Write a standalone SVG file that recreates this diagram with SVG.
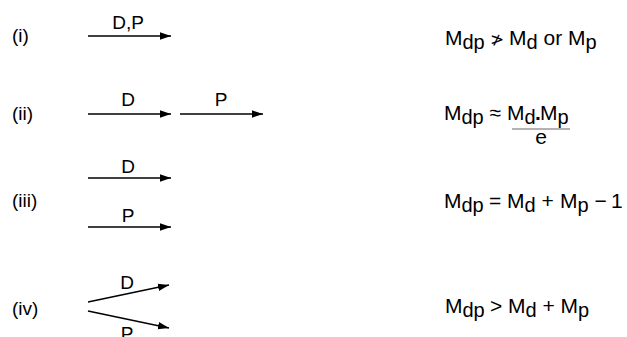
<svg xmlns="http://www.w3.org/2000/svg" width="627" height="337" viewBox="0 0 627 337">
<style>
text{font-family:"Liberation Sans",Arial,sans-serif;fill:#000}
.lbl{font-size:19px}
.al{font-size:19px;text-anchor:middle}
.eq{font-size:21px}
.sub{font-size:20px}
.ln{stroke:#000;stroke-width:1.4;fill:none;marker-end:url(#ah)}
</style>
<defs>
<marker id="ah" markerUnits="userSpaceOnUse" markerWidth="12" markerHeight="8" refX="11" refY="4" orient="auto">
<path d="M0,0.3 L11,4 L0,7.7 z" fill="#000"/>
</marker>
</defs>
<rect width="627" height="337" fill="#fff"/>
<g id="row-i"><text class="lbl" x="12" y="42">(i)</text></g>
<g id="row-ii"><text class="lbl" x="12" y="120">(ii)</text></g>
<g id="row-iii"><text class="lbl" x="12" y="207">(iii)</text></g>
<g id="row-iv"><text class="lbl" x="12" y="315">(iv)</text></g>
<g id="connectors">
<line class="ln" x1="88" y1="36" x2="171" y2="36"/>
<line class="ln" x1="88" y1="114" x2="171" y2="114"/>
<line class="ln" x1="180" y1="114" x2="263" y2="114"/>
<line class="ln" x1="88" y1="178" x2="171" y2="178"/>
<line class="ln" x1="88" y1="227" x2="171" y2="227"/>
<line class="ln" x1="88" y1="302" x2="169" y2="285"/>
<line class="ln" x1="88" y1="311" x2="169" y2="328"/>
</g>
<g id="arrow-labels">
<text class="al" x="128" y="29">D,P</text>
<text class="al" x="128" y="106">D</text>
<text class="al" x="221" y="106">P</text>
<text class="al" x="128" y="173">D</text>
<text class="al" x="128" y="222">P</text>
<text class="al" x="127" y="289">D</text>
<text class="al" x="127" y="340">P</text>
</g>
<g id="eq-i"><text class="eq" y="45"><tspan x="445">M</tspan><tspan class="sub" x="462.5" dy="3.5">dp</tspan><tspan x="490" dy="-3.5" style="font-family:'DejaVu Sans',sans-serif;font-size:17px">≯</tspan><tspan x="509">M</tspan><tspan class="sub" x="526.5" dy="3.5">d</tspan><tspan x="543.5" dy="-3.5">or</tspan><tspan x="568">M</tspan><tspan class="sub" x="585.5" dy="3.5">p</tspan></text></g>
<g id="eq-ii"><text class="eq" y="120"><tspan x="444">M</tspan><tspan class="sub" x="461.5" dy="3.5">dp</tspan><tspan x="489.5" dy="-3.5">≈</tspan><tspan x="507">M</tspan><tspan class="sub" x="524.5" dy="3.5">d</tspan><tspan x="535" dy="-3.5" font-weight="bold">.</tspan><tspan x="540">M</tspan><tspan class="sub" x="557.5" dy="3.5">p</tspan></text>
<line x1="512" y1="129" x2="570" y2="129" stroke="#999" stroke-width="1.5"/>
<text class="eq" x="541" y="144" text-anchor="middle">e</text></g>
<g id="eq-iii"><text class="eq" y="208"><tspan x="444">M</tspan><tspan class="sub" x="461.5" dy="3.5">dp</tspan><tspan x="489" dy="-3.5">=</tspan><tspan x="507">M</tspan><tspan class="sub" x="524.5" dy="3.5">d</tspan><tspan x="541.5" dy="-3.5">+</tspan><tspan x="560">M</tspan><tspan class="sub" x="577.5" dy="3.5">p</tspan><tspan x="594.5" dy="-3.5">−</tspan><tspan x="611">1</tspan></text></g>
<g id="eq-iv"><text class="eq" y="313"><tspan x="445">M</tspan><tspan class="sub" x="462.5" dy="3.5">dp</tspan><tspan x="490" dy="-3.5">&gt;</tspan><tspan x="508">M</tspan><tspan class="sub" x="525.5" dy="3.5">d</tspan><tspan x="542.5" dy="-3.5">+</tspan><tspan x="560.5">M</tspan><tspan class="sub" x="578" dy="3.5">p</tspan></text></g>
</svg>
